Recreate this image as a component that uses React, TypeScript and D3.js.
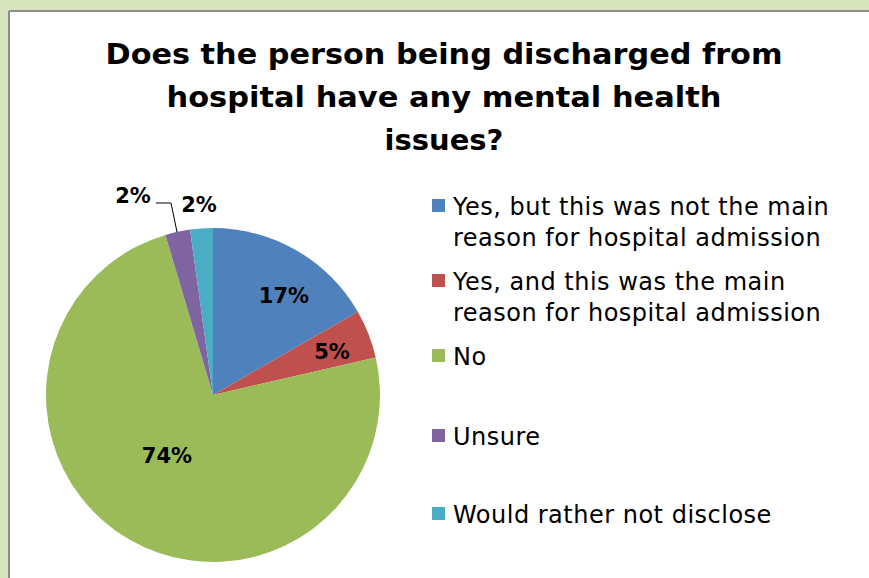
import React from "react";
import * as d3 from "d3";

const legendLines = [
  ["Yes, but this was not the main", "reason for hospital admission"],
  ["Yes, and this was the main", "reason for hospital admission"],
  ["No"],
  ["Unsure"],
  ["Would rather not disclose"],
];
const values = [16.7, 4.7, 74.0, 2.4, 2.2];
const labels = ["17%", "5%", "74%", "2%", "2%"];
const colors = ["#4f81bd", "#c0504d", "#9bbb59", "#8064a2", "#4bacc6"];
const titleLines = [
  "Does the person being discharged from",
  "hospital have any mental health",
  "issues?",
];

const W = 869;
const H = 578;
const cx = 213;
const cy = 395;
const R = 167;
const font = "'DejaVu Sans', sans-serif";

export default function App() {
  const pie = d3.pie<number>().sort(null).value((d) => d)(values);
  const arc = d3.arc<d3.PieArcDatum<number>>().innerRadius(0).outerRadius(R);
  const labelPos: [number, number][] = [
    [284, 296],
    [332, 352],
    [167, 456],
    [133, 196],
    [199, 205],
  ];
  const legendY = [215, 290, 365, 445, 523];
  const titleLen = [677, 555, null];
  return (
    <svg
      width={W}
      height={H}
      style={{ position: "absolute", left: 0, top: 0 }}
    >
      <rect x={0} y={0} width={W} height={H} fill="#d7e4bd" />
      <rect x={9} y={11} width={W} height={H} fill="#ffffff" />
      <line x1={9} y1={11} x2={W} y2={11} stroke="#8c8c8c" strokeWidth={2} />
      <line x1={9} y1={11} x2={9} y2={H} stroke="#8c8c8c" strokeWidth={2} />
      <g fontFamily={font} fontWeight="bold" fontSize={29} fill="#000">
        {titleLines.map((t, i) => (
          <text
            key={i}
            x={444}
            y={64 + i * 43}
            textAnchor="middle"
            {...(titleLen[i] ? { textLength: titleLen[i], lengthAdjust: "spacingAndGlyphs" } : {})}
          >
            {t}
          </text>
        ))}
      </g>
      <g transform={`translate(${cx},${cy})`}>
        {pie.map((p, i) => (
          <path key={i} d={arc(p) || ""} fill={colors[i]} />
        ))}
      </g>
      <polyline
        points="156,203 171,203 177,232"
        fill="none"
        stroke="#000"
        strokeWidth={1}
      />
      <g fontFamily={font} fontWeight="bold" fontSize={21} fill="#000">
        {labels.map((l, i) => (
          <text
            key={i}
            x={labelPos[i][0]}
            y={labelPos[i][1]}
            textAnchor="middle"
            dominantBaseline="central"
          >
            {l}
          </text>
        ))}
      </g>
      <g fontFamily={font} fontSize={24} fill="#000" letterSpacing={0.5}>
        {legendLines.map((lines, i) => (
          <g key={i}>
            <rect x={432} y={legendY[i] - 16} width={13} height={13} fill={colors[i]} />
            {lines.map((t, j) => (
              <text key={j} x={453} y={legendY[i] + j * 31}>
                {t}
              </text>
            ))}
          </g>
        ))}
      </g>
    </svg>
  );
}
